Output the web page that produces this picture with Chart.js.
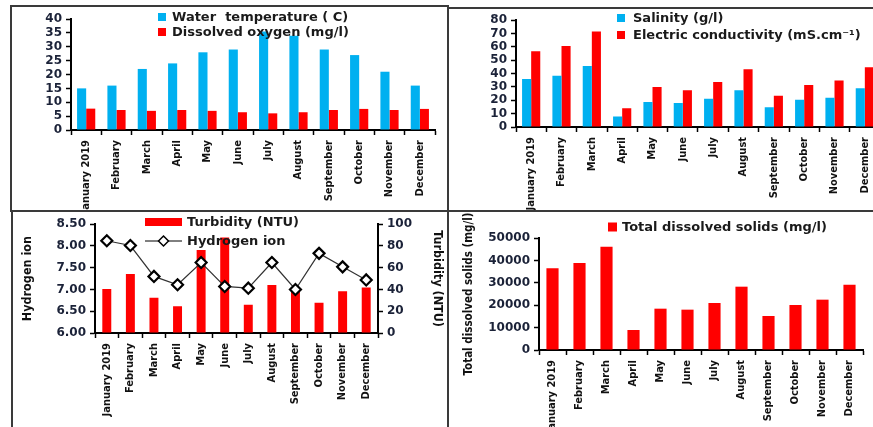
<!DOCTYPE html>
<html>
<head>
<meta charset="utf-8">
<script src="https://cdn.jsdelivr.net/npm/chart.js@4.4.1/dist/chart.umd.min.js"></script>
<style>
  html, body { margin: 0; padding: 0; background: #fff; overflow: hidden; }
  body { width: 873px; height: 427px; position: relative; }
  canvas { position: absolute; }
  .line { position: absolute; background: #3a3a3a; }
</style>
</head>
<body>
<!-- panel frames -->
<div class="line" style="left:10px;top:5px;width:439px;height:2px"></div>
<div class="line" style="left:448px;top:7px;width:425px;height:2px"></div>
<div class="line" style="left:10px;top:210px;width:863px;height:2px"></div>
<div class="line" style="left:10px;top:5px;width:2px;height:207px"></div>
<div class="line" style="left:11px;top:211px;width:2px;height:216px"></div>
<div class="line" style="left:447px;top:5px;width:2px;height:422px"></div>

<canvas id="chartTemp" width="434" height="203" style="left:13px;top:7px"></canvas>
<canvas id="chartSal" width="440" height="201" style="left:450px;top:9px"></canvas>
<canvas id="chartPh" width="434" height="214" style="left:13px;top:213px"></canvas>
<canvas id="chartTds" width="423" height="214" style="left:450px;top:213px"></canvas>

<script>
var months = ['January 2019', 'February', 'March', 'April', 'May', 'June', 'July', 'August', 'September', 'October', 'November', 'December'];

var waterTemp = [15, 16, 22, 24, 28, 29, 35.5, 34, 29, 27, 21, 16];
var dissolvedOxygen = [7.7, 7.2, 6.9, 7.2, 6.9, 6.4, 6.0, 6.4, 7.2, 7.6, 7.2, 7.6];

var salinity = [36, 38.4, 45.7, 7.8, 18.7, 18, 21.2, 27.5, 14.8, 20.4, 21.9, 29];
var conductivity = [56.7, 60.6, 71.5, 14.1, 29.9, 27.5, 33.8, 43.3, 23.4, 31.4, 34.8, 44.8];

var turbidity = [40.5, 54.3, 32.3, 24.7, 76.2, 87.8, 25.9, 44.2, 40.5, 27.7, 38.4, 41.8];
var hydrogenIon = [8.12, 8.01, 7.30, 7.11, 7.62, 7.07, 7.03, 7.62, 7.00, 7.83, 7.52, 7.22];

var totalSolids = [36460, 38840, 46130, 8930, 18450, 18010, 20980, 28270, 15180, 20090, 22470, 29170];

var BLUE = '#00b0f0';
var RED = '#ff0000';
var TICK_COLOR = '#1b2238';
var tickFont = { family: "'DejaVu Sans', Verdana, sans-serif", size: 12, weight: 'bold' };
var monthFont = { family: "'DejaVu Sans Condensed', 'Liberation Sans', sans-serif", size: 11, weight: 'bold' };
var titleFont = { family: "'DejaVu Sans Condensed', 'Liberation Sans', sans-serif", size: 12.5, weight: 'bold' };
var legendFont = "bold 13px 'DejaVu Sans', Verdana, sans-serif";

// legend drawn inside the plot, built from the chart's own datasets
var insideLegend = {
    id: 'insideLegend',
    afterDraw: function(chart, args, opts) {
        var ctx = chart.ctx;
        ctx.save();
        ctx.font = legendFont;
        ctx.textBaseline = 'middle';
        chart.data.datasets.forEach(function(ds, i) {
            var y = opts.y + i * opts.gap;
            var x = opts.x;
            if (ds.type === 'line') {
                ctx.strokeStyle = '#000';
                ctx.lineWidth = 1;
                ctx.beginPath();
                ctx.moveTo(x, y);
                ctx.lineTo(x + opts.swatchW, y);
                ctx.stroke();
                var cx = x + opts.swatchW / 2;
                ctx.fillStyle = '#fff';
                ctx.lineWidth = 1.5;
                ctx.beginPath();
                ctx.moveTo(cx, y - 5); ctx.lineTo(cx + 5, y); ctx.lineTo(cx, y + 5); ctx.lineTo(cx - 5, y);
                ctx.closePath();
                ctx.fill(); ctx.stroke();
            } else {
                ctx.fillStyle = ds.backgroundColor;
                ctx.fillRect(x, y - opts.swatchH / 2, opts.swatchW, opts.swatchH);
            }
            ctx.fillStyle = '#1a1a1a';
            ctx.fillText(ds.label, x + opts.swatchW + opts.textGap, y + 1);
        });
        ctx.restore();
    }
};

function axisLook(extra) {
    var base = {
        grid: { display: true, drawOnChartArea: false, drawTicks: true, tickLength: 5, tickColor: '#000', tickWidth: 1.5 },
        border: { display: true, color: '#000', width: 2 }
    };
    return Object.assign(base, extra);
}

function monthAxis(height) {
    return axisLook({
        ticks: { color: '#111', font: monthFont, maxRotation: 90, minRotation: 90, autoSkip: false, padding: 5 },
        afterFit: function(scale) { scale.height = height; }
    });
}

function valueAxis(width, min, max, step, extra) {
    return axisLook(Object.assign({
        min: min,
        max: max,
        ticks: { stepSize: step, color: TICK_COLOR, font: tickFont, padding: 4, autoSkip: false,
                 callback: function(v) { return String(v); } },
        afterFit: function(scale) { scale.width = width; }
    }, extra || {}));
}

function baseOptions(padding, legend) {
    return {
        responsive: false,
        animation: false,
        layout: { padding: padding },
        plugins: {
            legend: { display: false },
            tooltip: { enabled: false },
            insideLegend: legend
        }
    };
}

// water temperature & dissolved oxygen
var opt1 = baseOptions({ top: 12, right: 12, left: 0, bottom: 0 },
    { x: 145, y: 10, gap: 15, swatchW: 8, swatchH: 8, textGap: 6 });
opt1.scales = { x: monthAxis(80), y: valueAxis(58, 0, 40, 5) };
new Chart(document.getElementById('chartTemp'), {
    type: 'bar',
    data: {
        labels: months,
        datasets: [
            { label: 'Water  temperature ( C)', data: waterTemp, backgroundColor: BLUE, categoryPercentage: 0.6, barPercentage: 1 },
            { label: 'Dissolved oxygen (mg/l)', data: dissolvedOxygen, backgroundColor: RED, categoryPercentage: 0.6, barPercentage: 1 }
        ]
    },
    options: opt1,
    plugins: [insideLegend]
});

// salinity & electric conductivity
var opt2 = baseOptions({ top: 8, right: 10, left: 0, bottom: 0 },
    { x: 167, y: 9, gap: 17, swatchW: 8, swatchH: 8, textGap: 8 });
opt2.scales = { x: monthAxis(83), y: valueAxis(66, 0, 80, 10) };
new Chart(document.getElementById('chartSal'), {
    type: 'bar',
    data: {
        labels: months,
        datasets: [
            { label: 'Salinity (g/l)', data: salinity, backgroundColor: BLUE, categoryPercentage: 0.6, barPercentage: 1 },
            { label: 'Electric conductivity (mS.cm\u207B\u00B9)', data: conductivity, backgroundColor: RED, categoryPercentage: 0.6, barPercentage: 1 }
        ]
    },
    options: opt2,
    plugins: [insideLegend]
});

// turbidity & hydrogen ion
var opt3 = baseOptions({ top: 10, right: 0, left: 0, bottom: 0 },
    { x: 132, y: 9, gap: 19, swatchW: 37, swatchH: 8, textGap: 5 });
opt3.scales = {
    x: monthAxis(94),
    y: valueAxis(82, 6, 8.5, 0.5, {
        position: 'left',
        title: { display: true, text: 'Hydrogen ion', color: '#111', font: titleFont, padding: { top: 7, bottom: 0 } }
    }),
    y2: valueAxis(69, 0, 100, 20, {
        position: 'right',
        title: { display: true, text: 'Turbidity (NTU)', color: '#111', font: titleFont, padding: { top: 2, bottom: 0 } }
    })
};
opt3.scales.y.ticks.callback = function(v) { return v.toFixed(2); };
new Chart(document.getElementById('chartPh'), {
    type: 'bar',
    data: {
        labels: months,
        datasets: [
            { label: 'Turbidity (NTU)', data: turbidity, yAxisID: 'y2', backgroundColor: RED, categoryPercentage: 0.38, barPercentage: 1, order: 2 },
            { type: 'line', label: 'Hydrogen ion', data: hydrogenIon, yAxisID: 'y', borderColor: '#333', borderWidth: 1.2,
              pointStyle: 'rectRot', pointRadius: 5.5, pointBackgroundColor: '#fff', pointBorderColor: '#000', pointBorderWidth: 2.2, order: 1 }
        ]
    },
    options: opt3,
    plugins: [insideLegend]
});

// total dissolved solids
var opt4 = baseOptions({ top: 25, right: 10, left: 0, bottom: 0 },
    { x: 158, y: 14, gap: 17, swatchW: 9, swatchH: 9, textGap: 5 });
opt4.scales = {
    x: monthAxis(77),
    y: valueAxis(89, 0, 50000, 10000, {
        title: { display: true, text: 'Total dissolved solids (mg/l)', color: '#111',
                 font: { family: titleFont.family, size: 11.5, weight: 'bold' }, padding: { top: 12, bottom: 0 } }
    })
};
new Chart(document.getElementById('chartTds'), {
    type: 'bar',
    data: {
        labels: months,
        datasets: [
            { label: 'Total dissolved solids (mg/l)', data: totalSolids, backgroundColor: RED, categoryPercentage: 0.45, barPercentage: 1 }
        ]
    },
    options: opt4,
    plugins: [insideLegend]
});
</script>
</body>
</html>
